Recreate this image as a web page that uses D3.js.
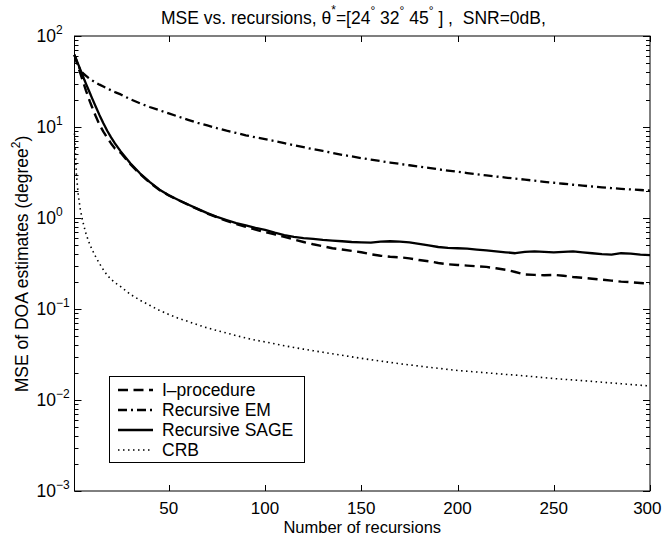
<!DOCTYPE html>
<html><head><meta charset="utf-8">
<script src="https://cdn.jsdelivr.net/npm/d3@7"></script>
<style>
body{margin:0;background:#fff}
svg{display:block}
text{font-family:"Liberation Sans",Arial,Helvetica,sans-serif;fill:#000}
</style>
</head><body>
<svg id="chart" width="662" height="536"></svg>
<script>
// ---------- data ----------
const recursions = [1,2,3,4,5,6,7,8,9,10,12,14,16,18,20,22,
  25,30,35,40,45,50,55,60,65,70,75,80,85,90,95,100,
  105,110,115,120,125,130,135,140,145,150,155,160,165,170,175,180,185,190,195,200,
  205,210,215,220,225,230,235,240,245,250,255,260,265,270,275,280,285,290,295,300];

const iProcedure = [62,53,45,39,33.5,29,25,21.8,19,16.8,
  13.2,10.6,8.9,7.6,6.6,5.8,
  5.2,3.9,3.05,2.46,2.04,1.77,1.57,1.4,1.25,1.12,1.02,0.93,0.86,0.80,0.745,0.70,
  0.66,0.62,0.58,0.545,0.515,0.49,0.465,0.45,0.435,0.42,0.40,0.385,0.375,0.37,0.36,0.345,0.335,0.32,0.31,0.305,
  0.30,0.295,0.29,0.28,0.27,0.255,0.24,0.237,0.235,0.237,0.232,0.225,0.22,0.215,0.21,0.205,0.20,0.197,0.193,0.19];

const recursiveEM = [62,53,47,42.5,40,38,36.5,35,33.8,32.7,
  30.8,29.2,27.8,26.5,25.3,24.2,
  22.8,20.2,18.2,16.6,15.3,14.1,13.0,12.0,11.1,10.4,9.7,9.1,8.6,8.1,7.7,7.35,
  7.0,6.65,6.3,6.0,5.7,5.45,5.2,4.95,4.75,4.55,4.38,4.22,4.07,3.93,3.8,3.67,3.55,3.43,3.32,3.22,
  3.12,3.03,2.94,2.86,2.78,2.71,2.64,2.57,2.5,2.44,2.38,2.32,2.27,2.22,2.17,2.13,2.09,2.06,2.03,2.0];

const recursiveSAGE = [62,55,48.5,43,38,33.5,29.8,26.5,23.6,21,
  16.8,13.5,11,9.1,7.7,6.6,
  5.4,4.0,3.1,2.5,2.06,1.78,1.58,1.41,1.26,1.13,1.03,0.95,0.88,0.83,0.78,0.74,
  0.69,0.65,0.62,0.60,0.59,0.575,0.565,0.555,0.545,0.54,0.535,0.55,0.555,0.55,0.54,0.52,0.50,0.48,0.47,0.465,
  0.46,0.45,0.44,0.43,0.42,0.41,0.425,0.43,0.425,0.42,0.425,0.43,0.42,0.41,0.40,0.395,0.41,0.405,0.395,0.39];

const crb = [8.5,3.0,1.75,1.25,0.98,0.80,0.67,0.58,0.51,0.455,
  0.375,0.315,0.27,0.235,0.212,0.195,
  0.176,0.145,0.125,0.11,0.097,0.087,0.079,0.073,0.067,0.062,0.058,0.0545,0.051,0.048,0.0455,0.0435,
  0.0415,0.0395,0.0378,0.0362,0.0348,0.0335,0.0322,0.031,0.0298,0.0287,0.0277,0.0268,0.0259,0.025,0.0243,0.0236,0.0229,0.0223,0.0217,0.0211,
  0.0207,0.0203,0.0199,0.0195,0.0191,0.0188,0.0184,0.018,0.0176,0.0172,0.0169,0.0166,0.0163,0.016,0.0157,0.0154,0.0151,0.0148,0.0145,0.0143];

const seriesNames = ["I\u2013procedure","Recursive EM","Recursive SAGE","CRB"];
const xTickValues = [50,100,150,200,250,300];
const yDecadeExponents = [-3,-2,-1,0,1,2];

// ---------- layout ----------
const W = 662, L = 74.5, R = 650, T = 36, B = 491;
const svg = d3.select("#chart");
const x = d3.scaleLinear().domain([1,300]).range([L,R]);
const y = d3.scaleLog().domain([1e-3,1e2]).range([B,T]);

const styles = [
  {dash:"10,5.5", w:2.4},
  {dash:"9,4,2,4", w:2.3},
  {dash:null, w:2.3},
  {dash:"1.5,3.5", w:1.6}
];
const data = [iProcedure, recursiveEM, recursiveSAGE, crb];

// frame
svg.append("rect").attr("x",L).attr("y",T).attr("width",R-L).attr("height",B-T)
  .attr("fill","none").attr("stroke","#000").attr("stroke-width",1);

// x ticks (bottom + top, inward)
const gx = svg.append("g");
xTickValues.forEach(v=>{
  const px = Math.round(x(v))+0.5;
  gx.append("line").attr("x1",px).attr("x2",px).attr("y1",B).attr("y2",B-6).attr("stroke","#000");
  gx.append("line").attr("x1",px).attr("x2",px).attr("y1",T).attr("y2",T+6).attr("stroke","#000");
  const t = gx.append("text").attr("x",x(v)).attr("y",514).attr("text-anchor","middle")
    .style("font-size","17px").text(v);
  const w = t.node().getComputedTextLength();
  if (x(v) + w/2 > W - 0.5) t.attr("x", W - 0.5 - w/2);
});

// y ticks (log, major + minor, both sides inward)
const gy = svg.append("g");
yDecadeExponents.forEach(e=>{
  const base = Math.pow(10,e);
  const py = Math.round(y(base))+0.5;
  gy.append("line").attr("x1",L).attr("x2",L+7).attr("y1",py).attr("y2",py).attr("stroke","#000");
  gy.append("line").attr("x1",R).attr("x2",R-7).attr("y1",py).attr("y2",py).attr("stroke","#000");
  const t = gy.append("text").attr("x",36.5).attr("y",y(base)+6.3).style("font-size","17.5px");
  t.append("tspan").text("10");
  t.append("tspan").attr("dy",-8).style("font-size","12px").text(e<0 ? "\u2212"+(-e) : String(e));
  if (e < 2) {
    for (let m=2;m<=9;m++){
      const my = Math.round(y(base*m))+0.5;
      gy.append("line").attr("x1",L).attr("x2",L+4).attr("y1",my).attr("y2",my).attr("stroke","#000");
      gy.append("line").attr("x1",R).attr("x2",R-4).attr("y1",my).attr("y2",my).attr("stroke","#000");
    }
  }
});

// curves
const line = d3.line().x(d=>x(d[0])).y(d=>y(d[1]));
data.forEach((vals,i)=>{
  const pts = recursions.map((r,j)=>[r,vals[j]]);
  const p = svg.append("path").attr("d",line(pts)).attr("fill","none")
    .attr("stroke","#000").attr("stroke-width",styles[i].w).attr("stroke-linejoin","round");
  if (styles[i].dash) p.attr("stroke-dasharray",styles[i].dash);
});

// legend
const lg = svg.append("g");
lg.append("rect").attr("x",109.5).attr("y",376.5).attr("width",195).attr("height",86)
  .attr("fill","#fff").attr("stroke","#000").attr("stroke-width",1);
seriesNames.forEach((n,i)=>{
  const cy = 390 + i*20;
  const l = lg.append("line").attr("x1",118).attr("x2",153).attr("y1",cy).attr("y2",cy)
    .attr("stroke","#000").attr("stroke-width",styles[i].w);
  if (styles[i].dash) l.attr("stroke-dasharray",styles[i].dash);
  lg.append("text").attr("x",162).attr("y",cy+6.3).style("font-size","17.5px").text(n);
});

// axis titles
svg.append("text").attr("x",(L+R)/2).attr("y",532.5).attr("text-anchor","middle")
  .style("font-size","16.5px").text("Number of recursions");
const yl = svg.append("text").attr("transform","translate(28,264) rotate(-90)")
  .attr("text-anchor","middle").style("font-size","17.5px");
yl.append("tspan").text("MSE of DOA estimates (degree");
yl.append("tspan").attr("dy",-8).style("font-size","12px").text("2");
yl.append("tspan").attr("dy",8).text(")");

// title
const tt = svg.append("text").attr("x",161).attr("y",24).style("font-size","17.5px")
  .attr("xml:space","preserve").style("white-space","pre");
tt.append("tspan").text("MSE vs. recursions, \u03b8");
tt.append("tspan").attr("dy",-10).style("font-size","12px").text("*");
tt.append("tspan").attr("dy",10).text("=[24");
tt.append("tspan").attr("dy",-9).style("font-size","12px").text("\u00b0");
tt.append("tspan").attr("dy",9).text(" 32");
tt.append("tspan").attr("dy",-9).style("font-size","12px").text("\u00b0");
tt.append("tspan").attr("dy",9).text(" 45");
tt.append("tspan").attr("dy",-9).style("font-size","12px").text("\u00b0");
tt.append("tspan").attr("dy",9).text(" ] ,  SNR=0dB,");
</script>
</body></html>
